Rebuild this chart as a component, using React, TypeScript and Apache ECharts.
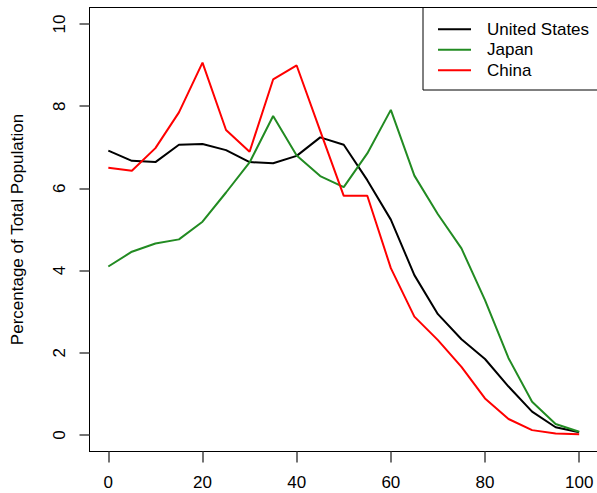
import React, { useEffect, useRef } from "react";
import * as echarts from "echarts";

const ages = [0, 5, 10, 15, 20, 25, 30, 35, 40, 45, 50, 55, 60, 65, 70, 75, 80, 85, 90, 95, 100];
const unitedStates = [6.92, 6.67, 6.64, 7.06, 7.08, 6.93, 6.64, 6.61, 6.79, 7.24, 7.06, 6.2, 5.24, 3.89, 2.94, 2.33, 1.85, 1.18, 0.57, 0.19, 0.07];
const japan = [4.1, 4.46, 4.66, 4.76, 5.19, 5.9, 6.63, 7.76, 6.8, 6.3, 6.03, 6.85, 7.91, 6.31, 5.37, 4.54, 3.28, 1.87, 0.81, 0.27, 0.08];
const china = [6.5, 6.43, 6.98, 7.85, 9.06, 7.42, 6.89, 8.65, 8.99, 7.4, 5.82, 5.82, 4.06, 2.88, 2.31, 1.66, 0.89, 0.39, 0.12, 0.04, 0.02];
const seriesNames = ["United States", "Japan", "China"];
const seriesColors = ["#000000", "#228B22", "#FF0000"];
const xTicks = [0, 20, 40, 60, 80, 100];
const yTicks = [0, 2, 4, 6, 8, 10];
const yTitle = "Percentage of Total Population";

const FONT = "'Liberation Sans', Arial, Helvetica, sans-serif";

export default function App() {
  const ref = useRef<HTMLDivElement>(null);
  useEffect(() => {
    if (!ref.current) return;
    const chart = echarts.init(ref.current, null, { renderer: "svg" });
    const values = [unitedStates, japan, china];
    chart.setOption({
      animation: false,
      backgroundColor: "#ffffff",
      grid: {
        left: 89.5,
        top: 7.5,
        width: 508.5,
        height: 444,
        outerBoundsMode: "none",
        show: true,
        borderColor: "#000",
        borderWidth: 1,
      },
      legend: {
        left: 423,
        top: 7.5,
        orient: "vertical",
        padding: [11.5, 20, 9.5, 15],
        itemGap: 0,
        itemWidth: 33,
        itemHeight: 2,
        icon: "rect",
        borderColor: "#000",
        borderWidth: 1,
        backgroundColor: "#fff",
        borderRadius: 0,
        textStyle: {
          fontFamily: FONT,
          fontSize: 17,
          color: "#000",
          lineHeight: 20.5,
          padding: [0, 0, 0, 11],
        },
        data: seriesNames,
      },
      xAxis: {
        type: "value",
        min: -4,
        max: 104,
        splitLine: { show: false },
        axisLine: { show: true, onZero: false, lineStyle: { color: "#000", width: 1 } },
        axisTick: {
          show: true,
          length: 11,
          customValues: xTicks,
          lineStyle: { color: "#444", width: 1.5 },
        },
        axisLabel: {
          customValues: xTicks,
          fontFamily: FONT,
          fontSize: 17,
          color: "#000",
          margin: 22,
        },
      },
      yAxis: {
        type: "value",
        min: -0.4,
        max: 10.4,
        splitLine: { show: false },
        axisLine: { show: true, onZero: false, lineStyle: { color: "#000", width: 1 } },
        axisTick: {
          show: true,
          length: 10,
          customValues: yTicks,
          lineStyle: { color: "#444", width: 1.5 },
        },
        axisLabel: {
          customValues: yTicks,
          rotate: 90,
          fontFamily: FONT,
          fontSize: 17,
          color: "#000",
          margin: 22,
        },
        name: yTitle,
        nameLocation: "middle",
        nameRotate: 90,
        nameGap: 64,
        nameTextStyle: { fontFamily: FONT, fontSize: 17, color: "#000" },
      },
      series: seriesNames.map((name, i) => ({
        name,
        type: "line",
        symbol: "none",
        showSymbol: false,
        color: seriesColors[i],
        lineStyle: { color: seriesColors[i], width: 2 },
        data: ages.map((a, j) => [a, values[i][j]]),
      })),
    });
    return () => chart.dispose();
  }, []);
  return (
    <div
      ref={ref}
      style={{ position: "fixed", left: 0, top: 0, width: 597, height: 493 }}
    />
  );
}
